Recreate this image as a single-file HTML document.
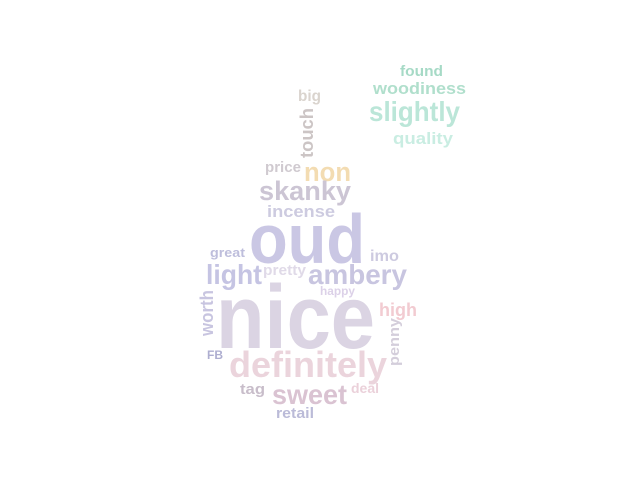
<!DOCTYPE html>
<html><head><meta charset="utf-8"><style>html,body{margin:0;padding:0;background:#fff}svg{display:block}text{font-family:"Liberation Sans Narrow","Liberation Sans",sans-serif;font-weight:bold}</style></head>
<body>
<svg width="640" height="480" viewBox="0 0 640 480">
<g id="g"></g>
</svg>
<script>
const words=["found","woodiness","slightly","quality","big","touch","price","non","skanky","incense","oud","great","imo","light","pretty","ambery","happy","worth","nice","high","penny","FB","definitely","tag","sweet","deal","retail"];
const sizes=[15,17,28,17,16,18,15,27,27,17,70,13,16,28,15,28,12,18,90,18,15,12,36,15,28,14,15];
const colors=["#a6dac6","#b0dfcc","#bbe6d8","#c9ede2","#dad4ce","#ccc5c5","#d0cad0","#f3dcb2","#ccc5d4","#cdcbe0","#cac7e4","#bebedc","#cdcae0","#c5c4e3","#e0dae8","#c8c5e0","#dcd1e8","#c8c5e0","#dbd4e3","#f2cbd1","#d4cedb","#aeaed0","#ebd4dc","#c8bdca","#dac3d2","#ebd1da","#bbbbd8"];
// layout: [x, baselineY, length, rotated]
const layout=[[400,76,43,0],[373,94,93,0],[369,121,91,0],[393,144,60,0],[298,101,23,0],[313,158,50,1],[265,172,36,0],[304,181,47,0],[259,200,92,0],[267,217,68,0],[249,263,116,0],[210,257,35,0],[370,261,29,0],[206,284,56,0],[263,275,43,0],[308,284,99,0],[320,295,35,0],[213,336,46,1],[216,348,159,0],[379,316,38,0],[399,366,48,1],[207,359,16,0],[229,377,158,0],[240,394,25,0],[272,404,75,0],[351,393,28,0],[276,418,38,0]];
const g=document.getElementById('g');
words.forEach((w,i)=>{
  const t=document.createElementNS('http://www.w3.org/2000/svg','text');
  const [x,y,l,r]=layout[i];
  if(r){t.setAttribute('transform',`translate(${x},${y}) rotate(-90)`);}
  else{t.setAttribute('x',x);t.setAttribute('y',y);}
  t.setAttribute('font-size',sizes[i]);
  t.setAttribute('fill',colors[i]);
  t.setAttribute('textLength',l);
  t.setAttribute('lengthAdjust','spacingAndGlyphs');
  t.textContent=w;
  
  
  g.appendChild(t);
});
</script>
</body></html>
